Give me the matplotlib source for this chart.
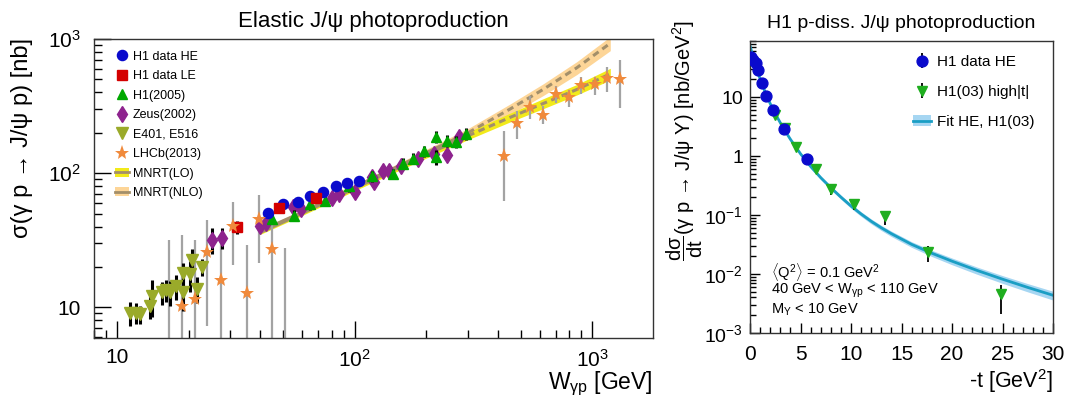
import matplotlib
matplotlib.use('Agg')
import matplotlib.pyplot as plt
from matplotlib.patches import Patch
from matplotlib.lines import Line2D
from matplotlib.ticker import FixedLocator, FixedFormatter, LogLocator, NullFormatter, MultipleLocator
import numpy as np

plt.rcParams['font.family'] = ['Liberation Sans', 'DejaVu Sans']
plt.rcParams['mathtext.fontset'] = 'custom'
plt.rcParams['mathtext.rm'] = 'Liberation Sans'
plt.rcParams['mathtext.it'] = 'Liberation Sans:italic'
plt.rcParams['mathtext.bf'] = 'Liberation Sans:bold'

# ---- elastic J/psi data (W [GeV], sigma [nb], error) ----
h1he_w = [43.2, 50.0, 57.8, 65.0, 73.6, 83.6, 93.0, 104.5]
h1he_s = [50.7, 59.3, 61.3, 67.0, 71.8, 79.7, 84.0, 87.0]
h1he_e = [3.0, 3.2, 3.4, 3.6, 3.8, 4.2, 4.5, 4.8]

h1le_w = [31.9, 48.1, 68.7]
h1le_s = [39.5, 54.8, 65.8]
h1le_e = [4.5, 3.5, 3.8]

h105_w = [45.1, 55.3, 65.0, 75.1, 94.2, 118.0, 144.8, 160.4, 175.7, 194.9, 219.8, 219.8, 244.5, 266.7, 293.0]
h105_s = [45.6, 48.3, 58.5, 62.1, 79.7, 94.9, 98.8, 117.6, 128.2, 145.9, 187.4, 131.0, 174.0, 171.9, 195.8]
h105_e = [4, 4.5, 5, 5.5, 7, 8.5, 9, 11, 12, 14, 20, 17, 17, 17, 20]

zeus_w = [25.0, 27.6, 40.0, 42.4, 54.9, 59.3, 80.2, 85.5, 100.5, 118.0, 120.8, 132.0, 140.0, 156.4, 184.5, 214.8, 244.5, 275.4]
zeus_s = [31.8, 33.1, 40.6, 42.5, 55.9, 53.6, 65.8, 69.7, 72.6, 93.3, 85.5, 103.0, 103.0, 113.0, 127.0, 140.0, 137.6, 187.4]
zeus_e = [7, 6, 3, 3, 3.5, 3.5, 4, 4, 4.5, 6, 6, 7, 7, 8, 9, 10, 10, 14]

e401_w = [11.3, 12.0, 12.5, 13.8, 14.0, 15.4, 16.1, 16.7, 17.7, 19.0, 19.0, 20.3, 20.6, 21.7, 22.7]
e401_s = [9.1, 9.1, 8.85, 10.2, 12.2, 12.9, 13.5, 12.9, 14.3, 18.0, 12.9, 17.6, 22.7, 13.7, 20.0]
e401_e = [1.8, 1.6, 1.4, 2.0, 3.8, 2.5, 2.5, 2.7, 3.0, 3.5, 3.5, 4.5, 4.5, 3.0, 3.0]

lhcb_w = [16.6, 18.7, 21.3, 24.0, 27.4, 30.9, 35.1, 39.7, 44.8, 51.0,
          425.6, 481.5, 548, 617.6, 703.7, 794.6, 898.6, 1022, 1153, 1304]
lhcb_s = [4.0, 10.2, 11.5, 25.9, 16.0, 40.2, 12.7, 45.6, 27.0, 4.0,
          133.8, 236.4, 310, 273.5, 392, 370, 453, 462, 513, 504]
lhcb_lo = [1, 1, 1, 7.2, 1, 20.5, 1, 21.2, 1, 1,
           62, 180, 255, 232, 335, 310, 388, 383, 405, 304]
lhcb_hi = [31.8, 34.6, 31.8, 45.1, 34.6, 61, 29.1, 68.5, 48, 27.5,
           207, 290, 377, 316, 449, 416, 518, 518, 617, 701]

# MNRT predictions
mnrt_w = [40, 60, 100, 150, 200, 300, 450, 620, 860, 1190]
mnrt_lo = [36, 50, 77, 108, 137, 190, 260, 330, 420, 550]
mnrt_lo_err = [0.03, 0.035, 0.04, 0.05, 0.055, 0.065, 0.075, 0.085, 0.09, 0.10]
mnrt_nlo = [37, 51, 79, 111, 142, 200, 300, 420, 610, 930]
mnrt_nlo_err = [0.03, 0.035, 0.04, 0.05, 0.06, 0.075, 0.09, 0.10, 0.11, 0.12]

# ---- proton dissociative data (-t [GeV^2], dsigma/dt [nb/GeV^2]) ----
he_t = [0.07, 0.33, 0.56, 0.82, 1.16, 1.58, 2.25, 3.37, 5.67]
he_s = [48.4, 42.6, 37.4, 28.8, 17.2, 10.2, 6.1, 2.88, 0.90]
he_e = [3.5, 3.0, 2.8, 2.2, 1.3, 0.8, 0.5, 0.25, 0.18]

ht_t = [2.48, 3.47, 4.55, 6.5, 8.0, 10.33, 13.4, 17.6, 24.9]
ht_s = [5.03, 3.0, 1.44, 0.61, 0.281, 0.153, 0.096, 0.024, 0.0045]
ht_lo = [4.5, 2.7, 1.25, 0.52, 0.22, 0.12, 0.0675, 0.0158, 0.00213]
ht_hi = [5.6, 3.3, 1.6, 0.70, 0.33, 0.18, 0.11, 0.030, 0.0064]

fit_t = [0, 0.25, 0.5, 0.75, 1, 1.5, 2, 2.5, 3, 3.5, 4, 5, 6, 7, 8, 9, 10, 11, 12, 13, 14,
         16, 18, 20, 22.5, 25, 27.5, 30]
fit_s = [73.8, 51.6, 37.0, 27.1, 20.3, 12.1, 7.73, 5.22, 3.66, 2.62, 1.92, 1.09, 0.665, 0.430,
         0.290, 0.201, 0.142, 0.104, 0.0782, 0.0607, 0.0482, 0.0318, 0.0225, 0.0165, 0.01147,
         0.00817, 0.00592, 0.00436]
fit_err = [0.04, 0.04, 0.04, 0.04, 0.04, 0.04, 0.045, 0.045, 0.05, 0.05, 0.055, 0.06, 0.065,
           0.07, 0.075, 0.08, 0.085, 0.09, 0.095, 0.10, 0.105, 0.11, 0.12, 0.13, 0.14, 0.15,
           0.16, 0.17]

C_BLUE = '#0a0acc'
C_RED = '#d40000'
C_GREEN = '#00a800'
C_PURPLE = '#8e238e'
C_OLIVE = '#9aaa2a'
C_ORANGE = '#f08a3c'
C_LO = '#f2ea1a'
C_NLO = '#fdd597'
C_TH = '#a38f6a'

W, H = 1072, 401
fig = plt.figure(figsize=(W / 100, H / 100), dpi=100)


def style_frame(ax):
    for s in ax.spines.values():
        s.set_linewidth(1.0)
        s.set_color('#333333')


# ================= left panel =================
ax1 = fig.add_axes([94 / W, 1 - 338 / H, (653 - 94) / W, (338 - 39) / H])
ax1.set_xscale('log')
ax1.set_yscale('log')

wt = np.array(mnrt_w)
lo = np.array(mnrt_lo)
nlo = np.array(mnrt_nlo)
ax1.fill_between(wt, nlo * (1 - np.array(mnrt_nlo_err)), nlo * (1 + np.array(mnrt_nlo_err)),
                 color=C_NLO, lw=0, zorder=1)
ax1.fill_between(wt, lo * (1 - np.array(mnrt_lo_err)), lo * (1 + np.array(mnrt_lo_err)),
                 color=C_LO, lw=0, zorder=1.1)
sol = wt <= 300
das = wt >= 300
for curve in (lo, nlo):
    ax1.plot(wt[sol], curve[sol], color=C_TH, lw=2.2, zorder=1.2)
    ax1.plot(wt[das], curve[das], color=C_TH, lw=2.2, dashes=(2.2, 1.5), zorder=1.2)

ls = np.array(lhcb_s)
ax1.errorbar(lhcb_w, lhcb_s, yerr=[ls - np.array(lhcb_lo), np.array(lhcb_hi) - ls],
             fmt='none', ecolor='#a3a3a3', elinewidth=1.6, zorder=2)

ebk = dict(ecolor='black', elinewidth=2.2, capsize=0, ls='none')
ax1.errorbar(e401_w, e401_s, yerr=e401_e, fmt='v', color=C_OLIVE, ms=8, zorder=3, **ebk)
ax1.errorbar(zeus_w, zeus_s, yerr=zeus_e, fmt='d', color=C_PURPLE, ms=8, zorder=3.1, **ebk)
ax1.errorbar(h105_w, h105_s, yerr=h105_e, fmt='^', color=C_GREEN, ms=7.5, zorder=3.2, **ebk)
ax1.errorbar(h1he_w, h1he_s, yerr=h1he_e, fmt='o', color=C_BLUE, ms=7.3, zorder=3.3, **ebk)
ax1.errorbar(h1le_w, h1le_s, yerr=h1le_e, fmt='s', color=C_RED, ms=7, zorder=3.4, **ebk)
ax1.plot(lhcb_w, lhcb_s, '*', color=C_ORANGE, ms=11, mew=0, zorder=3.5)

ax1.set_xlim(8, 1800)
ax1.set_ylim(5.9, 1000)
ax1.xaxis.set_major_locator(FixedLocator([10, 100, 1000]))
ax1.xaxis.set_major_formatter(FixedFormatter(['10', '$10^{2}$', '$10^{3}$']))
ax1.xaxis.set_minor_locator(LogLocator(base=10, subs=np.arange(2, 10)))
ax1.xaxis.set_minor_formatter(NullFormatter())
ax1.yaxis.set_major_locator(FixedLocator([10, 100, 1000]))
ax1.yaxis.set_major_formatter(FixedFormatter(['10', '$10^{2}$', '$10^{3}$']))
ax1.yaxis.set_minor_locator(LogLocator(base=10, subs=np.arange(2, 10)))
ax1.yaxis.set_minor_formatter(NullFormatter())
ax1.tick_params(which='both', direction='in', top=False, right=False, labelsize=15, width=1)
ax1.tick_params(which='major', length=12)
ax1.tick_params(which='minor', length=6)
ax1.tick_params(axis='x', which='major', pad=7.5)
ax1.tick_params(axis='y', which='major', pad=9.5)
style_frame(ax1)

ax1.set_title('Elastic J/ψ photoproduction', fontsize=16, pad=9)
ax1.text(1.0, -0.152, r'W$_{\mathrm{γp}}$ [GeV]', transform=ax1.transAxes,
         ha='right', va='center', fontsize=16.5)
fig.text(22 / W, 1 - 38 / H, 'σ(γ p → J/ψ p) [nb]', rotation=90, ha='center', va='top',
         fontsize=17)

leg_handles = [
    Line2D([], [], marker='o', color=C_BLUE, ls='none', ms=7.3),
    Line2D([], [], marker='s', color=C_RED, ls='none', ms=7),
    Line2D([], [], marker='^', color=C_GREEN, ls='none', ms=7.5),
    Line2D([], [], marker='d', color=C_PURPLE, ls='none', ms=8),
    Line2D([], [], marker='v', color=C_OLIVE, ls='none', ms=8),
    Line2D([], [], marker='*', color=C_ORANGE, ls='none', ms=11, mew=0),
    (Patch(color=C_LO, lw=0), Line2D([], [], color=C_TH, lw=2)),
    (Patch(color=C_NLO, lw=0), Line2D([], [], color=C_TH, lw=2)),
]
leg_labels = ['H1 data HE', 'H1 data LE', 'H1(2005)', 'Zeus(2002)', 'E401, E516',
              'LHCb(2013)', 'MNRT(LO)', 'MNRT(NLO)']
ax1.legend(leg_handles, leg_labels, loc='upper left', bbox_to_anchor=(0.028, 0.978),
           frameon=False, fontsize=9, handlelength=1.15, handletextpad=0.3,
           labelspacing=0.6, borderaxespad=0.2, borderpad=0.2)

# ================= right panel =================
ax2 = fig.add_axes([750 / W, 1 - 333 / H, 303 / W, (333 - 40.7) / H])
ax2.set_yscale('log')

ft = np.array(fit_t)
fs = np.array(fit_s)
fe = np.array(fit_err)
band = ax2.fill_between(ft, fs * (1 - fe), fs * (1 + fe), color='#a6d6f2', lw=0, zorder=1)
fline, = ax2.plot(ft, fs, color='#1a9ec4', lw=2.0, zorder=2)

hs = np.array(ht_s)
e2 = ax2.errorbar(ht_t, ht_s, yerr=[hs - np.array(ht_lo), np.array(ht_hi) - hs], fmt='v',
                  color='#1fae1f', ms=7.5, ecolor='black', elinewidth=1.3, capsize=0, zorder=3)
e1 = ax2.errorbar(he_t, he_s, yerr=he_e, fmt='o', color=C_BLUE, ms=7.8,
                  ecolor='black', elinewidth=1.3, capsize=0, zorder=4)

ax2.set_xlim(0, 30)
ax2.set_ylim(1e-3, 90)
ax2.xaxis.set_major_locator(MultipleLocator(5))
ax2.xaxis.set_minor_locator(MultipleLocator(1))
ax2.yaxis.set_major_locator(FixedLocator([1e-3, 1e-2, 1e-1, 1, 10]))
ax2.yaxis.set_major_formatter(FixedFormatter(['$10^{-3}$', '$10^{-2}$', '$10^{-1}$', '1', '10']))
ax2.yaxis.set_minor_locator(LogLocator(base=10, subs=np.arange(2, 10)))
ax2.yaxis.set_minor_formatter(NullFormatter())
ax2.tick_params(which='both', direction='in', top=False, right=False, width=1)
ax2.tick_params(which='major', length=7)
ax2.tick_params(which='minor', length=4)
ax2.tick_params(axis='x', which='major', labelsize=15, pad=9)
ax2.tick_params(axis='y', which='major', labelsize=14, pad=5)
style_frame(ax2)

ax2.set_title('H1 p-diss. J/ψ photoproduction', fontsize=14, pad=9)
ax2.text(1.0, -0.166, '-t [GeV$^{2}$]', transform=ax2.transAxes,
         ha='right', va='center', fontsize=15.5)
fig.text(685 / W, 1 - 20 / H, r'$\dfrac{\mathrm{dσ}}{\mathrm{dt}}$(γ p → J/ψ Y) [nb/GeV$^{2}$]',
         rotation=90, ha='center', va='top', fontsize=14.5)

ax2.legend([e1, e2, (band, fline)], ['H1 data HE', 'H1(03) high|t|', 'Fit HE, H1(03)'],
           loc='upper left', bbox_to_anchor=((907 - 750) / 303, 0.972), frameon=False,
           fontsize=11, handlelength=1.2, handletextpad=0.35, labelspacing=1.05,
           borderaxespad=0.0)

ax2.text(0.069, 0.210, r'$\langle$Q$^{2}\rangle$ = 0.1 GeV$^{2}$', transform=ax2.transAxes,
         fontsize=10.5, va='center')
ax2.text(0.069, 0.145, r'40 GeV < W$_{\mathrm{γp}}$ < 110 GeV', transform=ax2.transAxes,
         fontsize=10.5, va='center')
ax2.text(0.069, 0.079, r'M$_{\mathrm{Y}}$ < 10 GeV', transform=ax2.transAxes,
         fontsize=10.5, va='center')

fig.savefig('out.png', dpi=100)
